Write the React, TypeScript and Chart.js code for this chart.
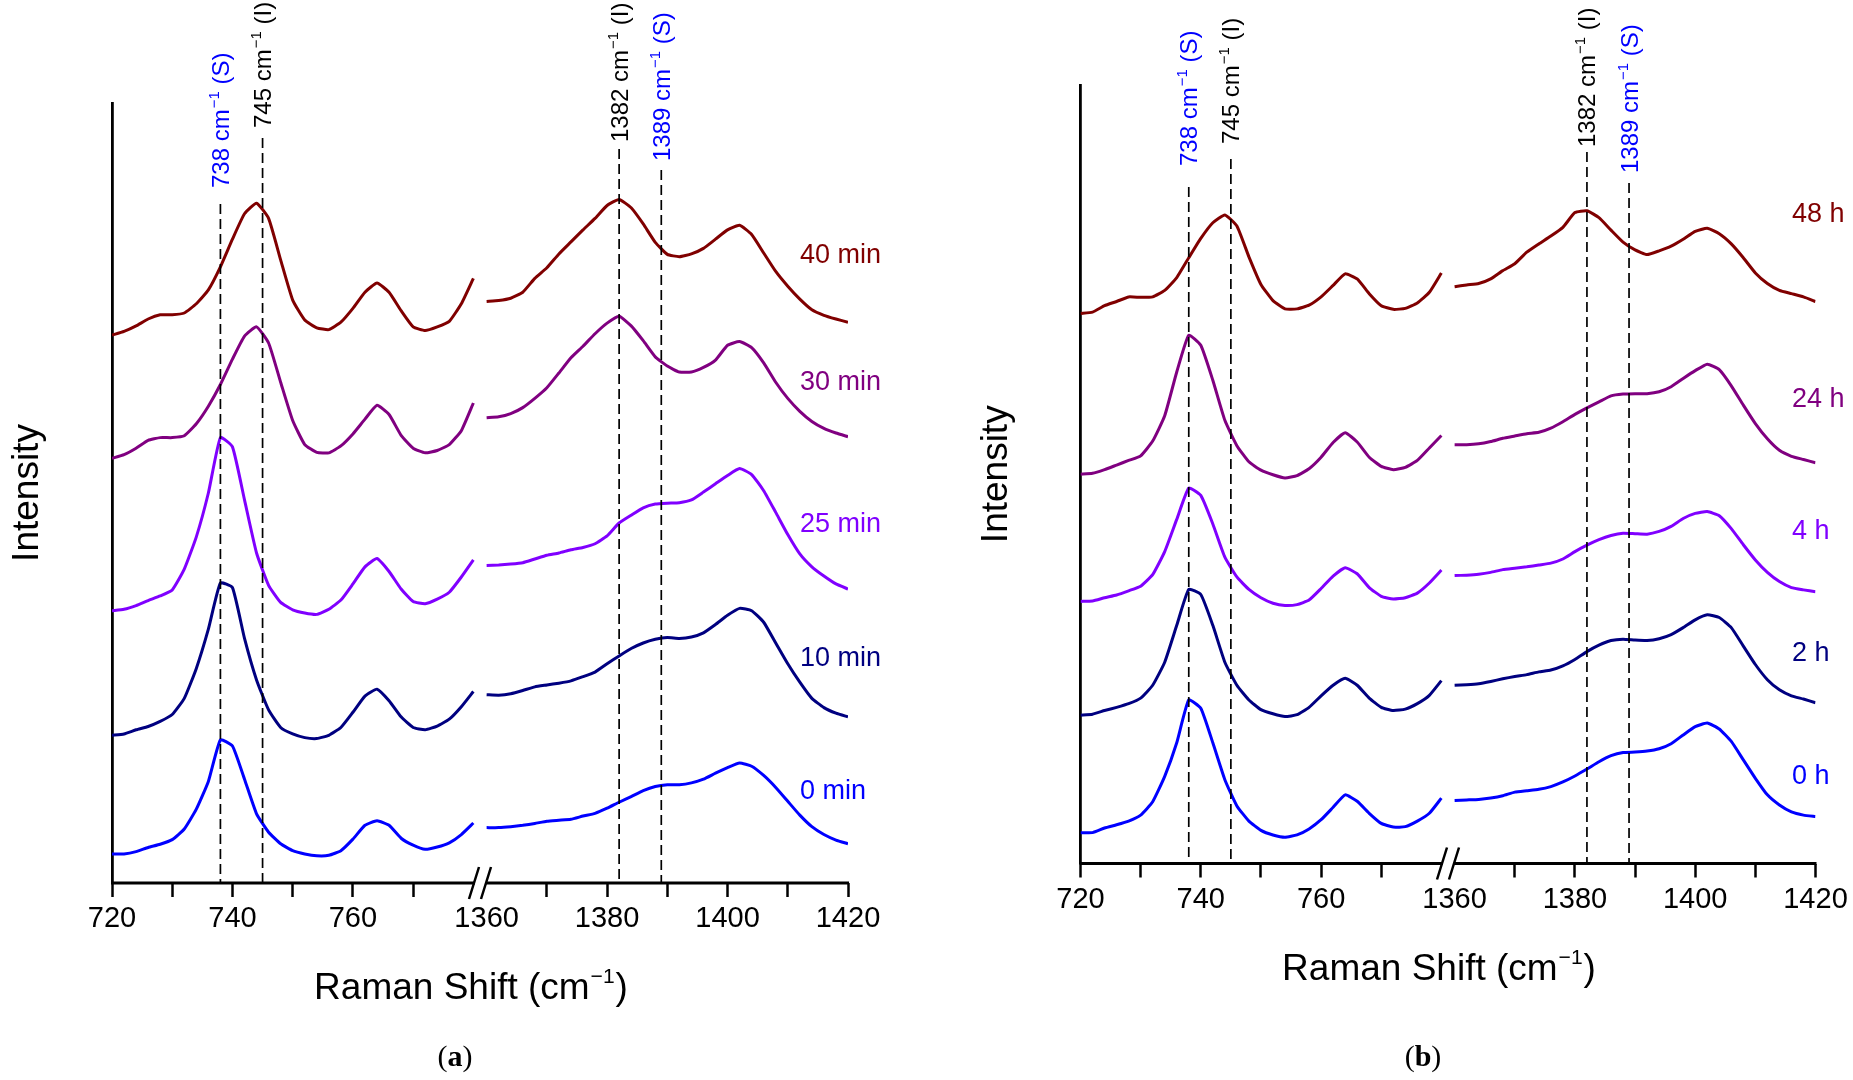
import { useEffect, useRef } from "react";
import Chart from "chart.js/auto";

const FONT = "'Liberation Sans', Arial, sans-serif";
const SERIF = "'Liberation Serif', 'Times New Roman', serif";

// Raman shift sampling (cm-1) of the two plotted windows
const lowShift = [720, 722, 724, 726, 728, 730, 732, 734, 736, 738, 740, 742, 744, 746, 748, 750, 752, 754, 756, 758, 760, 762, 764, 766, 768, 770, 772, 774, 776, 778, 780];
const highShift = [1360, 1362, 1364, 1366, 1368, 1370, 1372, 1374, 1376, 1378, 1380, 1382, 1384, 1386, 1388, 1390, 1392, 1394, 1396, 1398, 1400, 1402, 1404, 1406, 1408, 1410, 1412, 1414, 1416, 1418, 1420];

// x axis ticks (only multiples of 20 get a label)
const xTickValues = [720, 730, 740, 750, 760, 770, 1360, 1370, 1380, 1390, 1400, 1410, 1420];

// marker lines
const markerShift = [738, 745, 1382, 1389];
const markerTag = ["S", "I", "I", "S"];

// (a) time series, offset spectra (a.u.)
const min40Low = [1187, 1195, 1207, 1222, 1231, 1231, 1235, 1255, 1285, 1335, 1395, 1450, 1473, 1440, 1350, 1263, 1220, 1203, 1199, 1215, 1245, 1280, 1300, 1280, 1240, 1205, 1197, 1205, 1217, 1255, 1310];
const min40High = [1260, 1262, 1267, 1280, 1310, 1333, 1363, 1389, 1415, 1440, 1468, 1481, 1463, 1428, 1388, 1362, 1357, 1363, 1375, 1395, 1415, 1425, 1405, 1365, 1325, 1293, 1265, 1242, 1230, 1222, 1215];
const min30Low = [920, 928, 942, 959, 965, 965, 969, 995, 1033, 1080, 1135, 1185, 1205, 1170, 1085, 1002, 950, 933, 932, 947, 973, 1005, 1035, 1015, 970, 942, 932, 937, 950, 980, 1040];
const min30High = [1008, 1010, 1017, 1030, 1050, 1073, 1105, 1138, 1163, 1190, 1213, 1228, 1207, 1175, 1140, 1120, 1107, 1107, 1117, 1133, 1165, 1173, 1160, 1127, 1085, 1050, 1022, 1000, 985, 975, 967];
const min25Low = [590, 593, 601, 612, 622, 635, 680, 750, 845, 965, 945, 830, 715, 645, 608, 592, 585, 582, 593, 613, 648, 685, 703, 675, 637, 610, 605, 615, 630, 663, 700];
const min25High = [688, 689, 691, 694, 702, 710, 715, 722, 727, 735, 752, 780, 797, 813, 821, 823, 824, 830, 847, 865, 883, 898, 885, 850, 803, 755, 713, 685, 665, 648, 637];
const min10Low = [320, 323, 332, 339, 350, 365, 400, 465, 550, 650, 640, 530, 440, 375, 337, 323, 315, 313, 320, 337, 370, 405, 420, 395, 360, 337, 332, 340, 355, 382, 415];
const min10High = [408, 407, 410, 417, 425, 429, 433, 438, 447, 457, 475, 492, 508, 520, 528, 532, 530, 533, 542, 560, 580, 595, 590, 565, 520, 475, 435, 400, 380, 368, 360];
const min0Low = [63, 63, 68, 77, 84, 94, 117, 160, 220, 310, 297, 225, 150, 110, 85, 70, 63, 59, 60, 70, 95, 125, 135, 125, 97, 82, 73, 78, 87, 105, 130];
const min0High = [120, 120, 122, 125, 129, 134, 136, 138, 145, 151, 162, 175, 187, 200, 209, 213, 213, 217, 225, 238, 250, 260, 253, 233, 207, 177, 147, 122, 105, 93, 85];

// (b) time series
const h48Low = [1194, 1197, 1211, 1220, 1230, 1229, 1230, 1244, 1272, 1315, 1357, 1391, 1408, 1384, 1317, 1257, 1222, 1204, 1204, 1212, 1230, 1255, 1280, 1269, 1237, 1211, 1203, 1205, 1217, 1240, 1282];
const h48High = [1252, 1256, 1259, 1269, 1287, 1302, 1327, 1345, 1362, 1381, 1413, 1417, 1402, 1375, 1349, 1332, 1322, 1330, 1340, 1355, 1372, 1379, 1367, 1345, 1315, 1282, 1259, 1244, 1237, 1230, 1220];
const h24Low = [845, 847, 855, 865, 875, 885, 917, 972, 1067, 1147, 1125, 1049, 962, 907, 872, 854, 844, 837, 842, 857, 882, 914, 935, 915, 882, 862, 855, 860, 875, 902, 929];
const h24High = [909, 909, 911, 916, 923, 928, 933, 936, 945, 959, 975, 989, 1002, 1015, 1019, 1020, 1020, 1024, 1035, 1053, 1070, 1084, 1072, 1037, 995, 955, 922, 897, 884, 877, 870];
const h4Low = [569, 570, 577, 583, 592, 602, 627, 677, 747, 815, 799, 737, 665, 622, 595, 577, 565, 560, 562, 572, 597, 624, 642, 629, 599, 580, 574, 577, 587, 609, 637];
const h4High = [625, 626, 628, 632, 638, 641, 644, 648, 652, 661, 677, 691, 703, 712, 717, 716, 715, 721, 732, 749, 760, 764, 755, 727, 692, 659, 632, 612, 599, 594, 590];
const h2Low = [322, 324, 332, 339, 347, 359, 387, 437, 517, 595, 584, 517, 437, 387, 355, 334, 325, 319, 323, 339, 364, 387, 402, 387, 359, 339, 332, 335, 347, 365, 397];
const h2High = [387, 388, 390, 395, 401, 406, 410, 416, 420, 429, 443, 460, 474, 484, 487, 485, 484, 488, 497, 512, 529, 540, 534, 512, 472, 432, 399, 377, 364, 357, 349];
const h0Low = [67, 67, 77, 84, 92, 105, 134, 189, 262, 355, 337, 262, 182, 125, 92, 72, 62, 57, 62, 75, 95, 122, 149, 135, 109, 87, 79, 80, 92, 109, 142];
const h0High = [137, 138, 139, 142, 147, 155, 158, 161, 167, 177, 190, 205, 221, 234, 241, 242, 244, 249, 260, 279, 297, 305, 292, 265, 225, 185, 149, 127, 112, 105, 102];

const labelsA = ["40 min", "30 min", "25 min", "10 min", "0 min"];
const labelsB = ["48 h", "24 h", "4 h", "2 h", "0 h"];
const colors = ["#800000", "#800080", "#8000FF", "#000080", "#0000FF"];

const Y_MAX = 1690;
const GAP = 2.2; // width of the axis break, in axis units

// maps a real shift onto the broken axis
const toAxis = (v: number) => (v < 1000 ? v - 720 : v - 1360 + 60 + GAP);

const panels = [
  {
    caption: "a",
    labels: labelsA,
    series: [
      [min40Low, min40High],
      [min30Low, min30High],
      [min25Low, min25High],
      [min10Low, min10High],
      [min0Low, min0High],
    ],
    canvasLeft: 0,
    canvasWidth: 926,
    area: { left: 112, top: 103, right: 848, bottom: 883 },
    labelX: 800,
    labelY: [256, 383, 525, 659, 792],
    textBottom: [188, 128, 142, 161],
    lineTop: [204, 138, 149, 170],
  },
  {
    caption: "b",
    labels: labelsB,
    series: [
      [h48Low, h48High],
      [h24Low, h24High],
      [h4Low, h4High],
      [h2Low, h2High],
      [h0Low, h0High],
    ],
    canvasLeft: 926,
    canvasWidth: 927,
    area: { left: 154.5, top: 85, right: 889.5, bottom: 863.5 },
    labelX: 866,
    labelY: [215, 400, 532, 654, 777],
    textBottom: [166, 144, 147, 173],
    lineTop: [187, 159, 152, 183],
  },
];

type PanelCfg = (typeof panels)[number];

function drawMarkerText(ctx: CanvasRenderingContext2D, x: number, y: number, num: number, tag: string, color: string) {
  ctx.save();
  ctx.translate(x, y);
  ctx.rotate(-Math.PI / 2);
  ctx.fillStyle = color;
  ctx.textAlign = "left";
  ctx.textBaseline = "alphabetic";
  const base = 8.5;
  ctx.font = `24px ${FONT}`;
  let cx = 0;
  const t1 = `${num} cm`;
  ctx.fillText(t1, cx, base);
  cx += ctx.measureText(t1).width + 1;
  ctx.font = `15px ${FONT}`;
  ctx.fillText("\u22121", cx, base - 10);
  cx += ctx.measureText("\u22121").width;
  ctx.font = `24px ${FONT}`;
  ctx.fillText(` (${tag})`, cx, base);
  ctx.restore();
}

const makeDecor = (cfg: PanelCfg) => ({
  id: "decor",
  afterDraw(chart: any) {
    const { ctx, chartArea: area } = chart;
    const x = chart.scales.x;
    ctx.save();

    // broken x axis line with "//" marks
    const gc = (x.getPixelForValue(60) + x.getPixelForValue(60 + GAP)) / 2;
    const yb = area.bottom;
    ctx.strokeStyle = "#000";
    ctx.lineWidth = 3;
    ctx.beginPath();
    ctx.moveTo(area.left - 1, yb);
    ctx.lineTo(gc - 5, yb);
    ctx.moveTo(gc + 6, yb);
    ctx.lineTo(area.right + 1, yb);
    ctx.stroke();
    ctx.lineWidth = 2.5;
    ctx.beginPath();
    [-6, 6].forEach((d) => {
      ctx.moveTo(gc + d - 5, yb + 16);
      ctx.lineTo(gc + d + 5, yb - 16);
    });
    ctx.stroke();

    // dashed marker lines and rotated labels
    markerShift.forEach((v, i) => {
      const px = x.getPixelForValue(toAxis(v));
      ctx.save();
      ctx.setLineDash([10, 5]);
      ctx.lineWidth = 1.7;
      ctx.strokeStyle = "#000";
      ctx.beginPath();
      ctx.moveTo(px, cfg.lineTop[i]);
      ctx.lineTo(px, yb);
      ctx.stroke();
      ctx.restore();
      drawMarkerText(ctx, px, cfg.textBottom[i], v, markerTag[i], markerTag[i] === "S" ? "#0000FF" : "#000000");
    });

    // series labels
    ctx.font = `27px ${FONT}`;
    ctx.textAlign = "left";
    ctx.textBaseline = "middle";
    cfg.labels.forEach((lab, i) => {
      ctx.fillStyle = colors[i];
      ctx.fillText(lab, cfg.labelX, cfg.labelY[i]);
    });

    // x axis title with superscript
    const cxm = (area.left + area.right) / 2 - 9;
    const base = yb + 116;
    ctx.fillStyle = "#000";
    ctx.textBaseline = "alphabetic";
    ctx.font = `37px ${FONT}`;
    const p1 = "Raman Shift (cm";
    const w1 = ctx.measureText(p1).width;
    ctx.font = `21px ${FONT}`;
    const w2 = ctx.measureText("\u22121").width;
    ctx.font = `37px ${FONT}`;
    const w3 = ctx.measureText(")").width;
    let tx = cxm - (w1 + w2 + w3 + 2) / 2;
    ctx.fillText(p1, tx, base);
    tx += w1 + 1;
    ctx.font = `21px ${FONT}`;
    ctx.fillText("\u22121", tx, base - 16);
    tx += w2 + 1;
    ctx.font = `37px ${FONT}`;
    ctx.fillText(")", tx, base);

    // panel caption "(a)" / "(b)"
    const capX = (area.left + area.right) / 2 - 25;
    ctx.font = `30px ${SERIF}`;
    const wp = ctx.measureText("(").width;
    ctx.font = `bold 30px ${SERIF}`;
    const wl = ctx.measureText(cfg.caption).width;
    let qx = capX - (2 * wp + wl) / 2;
    const cy = 1066;
    ctx.font = `30px ${SERIF}`;
    ctx.fillText("(", qx, cy);
    qx += wp;
    ctx.font = `bold 30px ${SERIF}`;
    ctx.fillText(cfg.caption, qx, cy);
    qx += wl;
    ctx.font = `30px ${SERIF}`;
    ctx.fillText(")", qx, cy);

    ctx.restore();
  },
});

const Panel = ({ cfg }: { cfg: PanelCfg }) => {
  const chartRef = useRef<HTMLCanvasElement | null>(null);

  useEffect(() => {
    if (!chartRef.current) return;
    const ctx = chartRef.current.getContext("2d");
    if (!ctx) return;

    const datasets = cfg.series.map(([low, high], i) => ({
      label: cfg.labels[i],
      data: [
        ...lowShift.map((s, j) => ({ x: toAxis(s), y: low[j] })),
        { x: 60 + GAP / 2, y: null },
        ...highShift.map((s, j) => ({ x: toAxis(s), y: high[j] })),
      ],
      borderColor: colors[i],
      borderWidth: 3,
      pointRadius: 0,
      tension: 0.15,
      spanGaps: false,
    }));

    const xScaleHeight = 60;
    const yScaleWidth = 110;

    const chartInstance = new Chart(ctx, {
      type: "line",
      data: { datasets },
      options: {
        responsive: false,
        animation: false,
        events: [],
        layout: {
          padding: {
            left: cfg.area.left - yScaleWidth,
            top: cfg.area.top,
            right: cfg.canvasWidth - cfg.area.right,
            bottom: 1080 - cfg.area.bottom - xScaleHeight,
          },
        },
        plugins: {
          legend: { display: false },
          tooltip: { enabled: false },
        },
        scales: {
          x: {
            type: "linear",
            min: 0,
            max: 120 + GAP,
            afterBuildTicks: (scale: any) => {
              scale.ticks = xTickValues.map((v) => ({ value: toAxis(v) }));
            },
            afterFit: (scale: any) => {
              scale.height = xScaleHeight;
            },
            border: { display: false },
            grid: {
              display: true,
              drawOnChartArea: false,
              drawTicks: true,
              tickLength: 14,
              tickWidth: 2.5,
              tickColor: (c: any) => (xTickValues[c.index] === 1360 ? "rgba(0,0,0,0)" : "#000"),
            },
            ticks: {
              autoSkip: false,
              maxRotation: 0,
              minRotation: 0,
              padding: 5,
              color: "#000",
              font: { family: FONT, size: 29 },
              callback: (_v: any, idx: number) => (xTickValues[idx] % 20 === 0 ? String(xTickValues[idx]) : ""),
            },
          },
          y: {
            min: 0,
            max: Y_MAX,
            afterFit: (scale: any) => {
              scale.width = yScaleWidth;
            },
            border: { display: true, color: "#000", width: 2.8 },
            grid: { display: false },
            ticks: { display: false },
            title: {
              display: true,
              text: "Intensity",
              color: "#000",
              font: { family: FONT, size: 37 },
              padding: { top: 3.8, bottom: 0 },
            },
          },
        },
      },
      plugins: [makeDecor(cfg)],
    } as any);

    return () => {
      chartInstance.destroy();
    };
  }, [cfg]);

  return (
    <canvas
      ref={chartRef}
      width={cfg.canvasWidth}
      height={1080}
      style={{ position: "absolute", left: cfg.canvasLeft, top: 0, width: cfg.canvasWidth, height: 1080 }}
    ></canvas>
  );
};

const App = () => {
  return (
    <div style={{ position: "absolute", left: 0, top: 0, width: 1853, height: 1080, background: "#fff", overflow: "hidden" }}>
      {panels.map((p) => (
        <Panel key={p.caption} cfg={p} />
      ))}
    </div>
  );
};

export default App;
